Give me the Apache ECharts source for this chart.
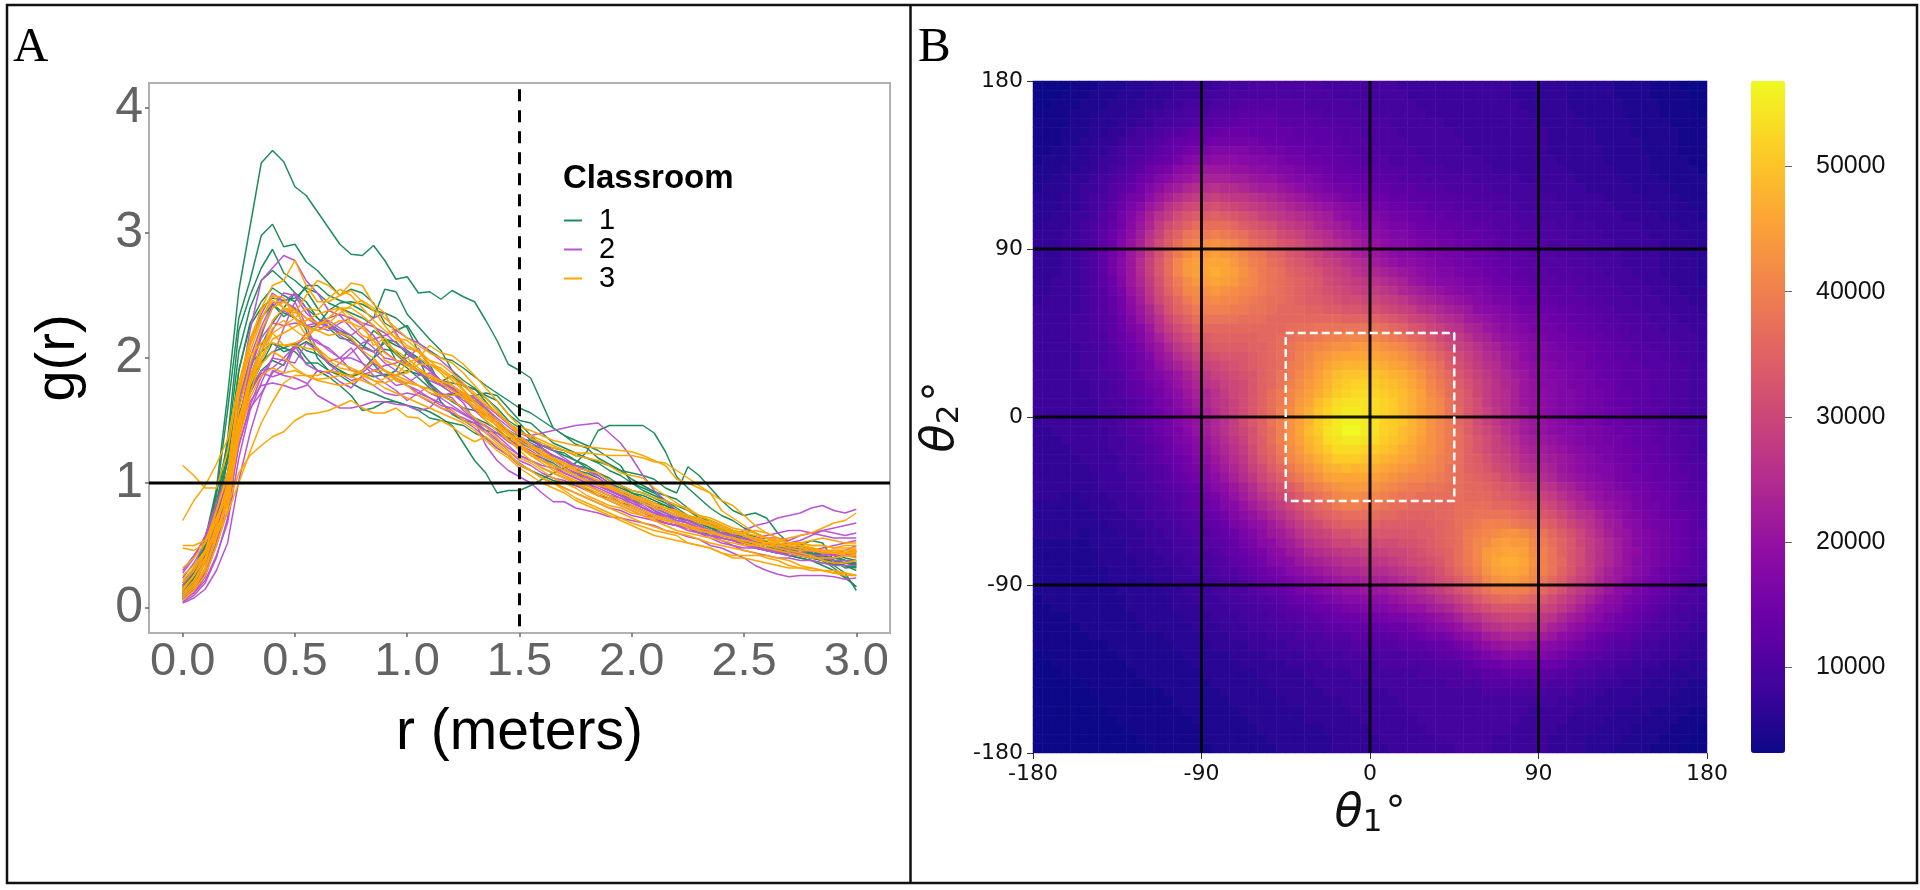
<!DOCTYPE html>
<html><head><meta charset="utf-8">
<style>html,body{margin:0;padding:0;background:#fff}#c{width:1920px;height:890px}</style>
<script src="https://cdn.jsdelivr.net/npm/echarts@6/dist/echarts.min.js"></script>
</head><body><div id="c"></div>
<script>
// Panel A: radial distribution curves, g(r) in hundredths, r = 0, 0.05, ... 3.0
const rValues = [0,0.05,0.1,0.15,0.2,0.25,0.3,0.35,0.4,0.45,0.5,0.55,0.6,0.65,0.7,0.75,0.8,0.85,0.9,0.95,1,1.05,1.1,1.15,1.2,1.25,1.3,1.35,1.4,1.45,1.5,1.55,1.6,1.65,1.7,1.75,1.8,1.85,1.9,1.95,2,2.05,2.1,2.15,2.2,2.25,2.3,2.35,2.4,2.45,2.5,2.55,2.6,2.65,2.7,2.75,2.8,2.85,2.9,2.95,3];
const classroom1 = [
[17,30,55,95,170,254,305,356,366,357,337,330,317,304,291,283,282,290,278,263,265,252,253,247,254,249,245,230,214,195,190,184,164,144,138,131,128,120,115,110,103,98,93,90,87,80,72,70,66,62,60,57,53,50,46,48,42,38,32,25,17],
[12,24,48,90,158,232,262,298,307,289,291,277,270,260,250,255,252,244,228,222,226,212,206,200,198,192,185,178,172,166,160,156,150,144,138,134,130,126,120,114,100,94,90,86,82,78,72,68,64,60,58,56,52,50,48,46,44,40,34,28,14],
[10,20,42,80,135,222,250,272,287,268,262,254,240,228,222,218,210,205,212,203,195,190,178,170,171,168,170,172,170,160,150,148,140,132,128,124,120,116,110,106,100,96,92,86,80,74,70,66,62,60,56,52,50,46,44,42,40,38,36,34,33],
[14,26,50,92,130,205,240,262,270,262,252,245,232,224,216,214,207,222,215,198,192,184,176,170,166,160,158,154,148,142,137,130,128,122,118,114,112,106,100,96,92,88,84,82,76,72,68,64,62,58,54,50,48,46,42,40,38,36,35,34,32],
[9,18,38,72,118,190,228,245,256,250,245,258,258,250,246,243,238,232,255,253,235,225,215,206,190,182,176,165,155,148,142,136,128,120,116,110,108,104,98,94,88,84,80,78,74,70,66,62,60,56,52,50,46,44,48,50,46,42,38,36,35],
[16,28,48,85,122,190,226,240,248,246,248,256,252,244,240,236,232,226,215,213,203,197,190,182,180,178,175,170,166,155,148,138,130,126,122,118,114,108,102,98,94,92,88,84,78,74,70,66,64,60,56,54,50,48,46,44,44,42,40,38,36],
[20,32,50,82,118,178,212,232,243,236,232,224,226,238,244,245,243,238,236,232,224,205,195,178,172,170,168,160,150,142,132,128,122,118,112,108,106,100,96,92,86,84,80,76,72,70,66,62,60,58,56,52,50,48,44,42,40,42,44,40,38],
[8,16,30,58,95,160,194,218,243,233,240,222,200,190,188,186,190,200,207,205,197,190,180,172,165,160,152,148,143,136,128,124,120,116,110,108,102,98,94,90,86,84,78,74,72,70,68,64,60,56,52,48,46,44,42,40,38,34,30,24,17],
[10,22,40,70,108,168,195,205,212,205,208,213,208,196,190,185,190,200,215,210,206,200,192,180,176,172,166,158,150,140,134,130,126,122,118,112,106,100,94,90,88,84,78,72,68,66,62,60,58,56,52,50,46,44,44,42,40,38,38,36,35],
[7,15,28,52,88,142,175,190,198,194,212,206,203,196,190,185,188,185,187,186,190,187,184,181,186,178,175,168,160,150,144,134,130,126,124,118,112,108,104,98,92,90,86,82,78,72,70,68,62,60,58,54,52,48,46,44,42,44,42,38,36],
[18,30,46,74,105,155,180,197,205,208,212,200,190,185,178,170,158,160,165,165,162,160,157,152,146,132,118,108,92,94,94,98,103,108,112,116,125,142,146,146,146,146,140,125,105,96,88,80,74,70,64,60,56,52,48,44,42,40,38,36,34],
[13,24,42,68,98,150,185,210,228,240,252,240,232,225,220,215,205,195,185,190,205,200,180,165,155,150,148,142,140,136,135,134,130,128,126,122,120,117,114,110,108,106,103,96,92,113,106,96,86,78,74,76,72,60,52,50,54,52,38,32,33],
[11,20,36,62,92,145,176,195,212,208,205,196,196,190,186,180,175,172,168,165,162,158,152,150,148,146,140,136,128,122,116,110,106,102,100,98,95,90,88,84,82,78,74,70,68,64,62,58,56,54,52,50,48,46,50,48,44,40,36,34,30]
];
const classroom2 = [
[6,12,25,52,90,170,222,262,272,282,278,262,252,238,234,224,216,208,200,198,194,190,184,178,172,166,160,155,148,140,133,128,122,118,114,110,105,100,94,90,86,82,76,72,68,64,60,58,56,54,52,50,47,45,44,43,42,42,43,42,41],
[10,18,32,62,98,175,215,235,252,245,252,240,225,222,228,232,226,218,205,198,195,188,182,178,176,172,168,162,155,148,140,136,130,126,120,114,110,104,98,94,90,86,80,76,72,68,64,62,60,58,56,53,50,48,46,44,46,44,46,46,45],
[28,40,58,84,108,165,200,225,244,245,240,232,226,230,224,218,225,232,236,220,205,196,190,182,178,170,164,156,150,142,136,130,126,122,118,114,110,106,100,94,90,86,82,78,74,70,66,62,60,58,62,66,68,72,74,76,80,82,78,76,79],
[8,14,26,50,85,150,190,216,228,226,228,226,228,232,235,232,228,225,220,212,205,198,190,182,178,172,168,160,152,145,138,132,128,122,118,112,106,100,96,92,88,84,78,74,70,68,64,60,58,56,54,54,56,56,54,58,60,58,56,56,56],
[5,10,20,40,72,135,172,190,192,200,210,216,214,206,200,200,196,190,186,178,180,186,188,182,176,168,158,150,142,135,130,126,120,114,108,104,100,96,92,88,84,80,76,72,68,66,62,60,58,56,54,52,52,50,48,46,46,48,50,52,54],
[12,22,38,66,98,150,172,188,185,188,210,195,190,188,196,204,212,215,218,222,216,212,205,198,190,178,170,162,155,147,140,138,140,142,144,146,147,148,140,132,120,106,94,86,78,72,66,62,58,56,52,50,48,46,44,42,40,40,38,38,38],
[15,26,40,64,92,140,165,178,180,178,175,178,190,188,181,176,186,190,194,196,200,208,192,180,175,170,165,160,150,142,136,130,124,118,112,108,104,98,94,90,86,80,76,74,70,68,64,62,60,56,54,56,58,60,62,62,60,62,60,58,60],
[4,8,15,30,52,102,140,170,190,186,184,180,170,165,160,160,162,165,165,163,162,158,160,170,172,164,150,130,118,110,105,100,92,85,85,80,78,76,73,72,70,68,66,62,60,57,55,50,48,44,40,34,30,27,25,26,26,26,25,23,24],
[18,30,44,66,85,130,162,185,200,198,196,212,206,197,200,208,196,186,180,174,166,172,178,172,168,158,150,146,140,133,128,124,118,114,110,106,102,98,94,90,84,80,76,72,68,66,64,60,56,54,52,48,46,46,48,50,48,44,42,42,44],
[9,16,28,50,78,130,160,172,188,195,208,220,212,208,200,190,188,196,190,182,178,174,168,162,160,155,150,145,138,130,122,118,112,108,104,100,98,94,90,88,82,78,72,68,66,62,60,58,54,50,46,44,42,40,40,38,38,36,34,34,34],
[24,36,52,76,100,150,182,205,222,238,232,226,222,228,218,212,208,205,196,190,184,178,172,168,162,156,150,142,135,128,122,118,114,112,108,104,100,94,90,84,80,76,72,68,66,64,62,60,56,54,50,48,46,44,42,42,40,40,40,42,46],
[7,12,22,42,68,120,158,180,200,224,245,226,206,195,188,182,184,178,172,170,172,170,165,160,156,152,148,140,134,126,118,114,108,104,102,98,94,90,86,82,78,74,70,68,66,64,60,56,52,50,48,48,46,46,44,44,42,42,44,46,50],
[30,42,56,80,102,150,190,220,240,252,250,236,228,225,222,215,205,196,190,184,178,172,168,164,158,150,144,136,128,122,114,110,104,100,96,92,88,84,80,78,74,72,70,68,66,64,62,60,58,56,54,52,50,50,52,54,58,62,64,66,68]
];
const classroom3 = [
[10,20,36,66,100,170,210,240,258,262,278,258,245,245,250,260,258,243,236,218,210,205,195,190,182,174,165,158,150,142,136,130,124,120,114,110,106,102,98,94,90,86,84,80,76,74,70,66,62,60,58,54,52,50,48,46,46,44,44,44,45],
[14,26,44,78,108,175,210,232,246,240,236,250,262,258,250,254,245,238,226,215,208,205,198,195,188,180,172,164,156,148,140,138,134,130,126,124,124,123,122,122,122,120,117,116,110,104,98,92,78,72,66,60,56,52,50,48,48,46,46,44,43],
[114,106,96,96,125,180,215,238,250,240,232,240,238,248,255,250,240,230,222,216,214,206,198,190,184,178,170,162,156,148,142,136,132,128,126,122,120,118,114,108,106,104,96,90,84,78,74,70,66,62,60,58,56,54,52,52,50,50,48,48,48],
[70,86,98,115,135,180,202,212,220,210,212,216,225,232,240,240,234,226,212,206,200,192,186,180,174,168,160,152,146,140,134,128,124,118,116,112,110,108,102,98,94,92,88,86,82,80,74,72,68,64,62,60,56,54,52,50,48,46,46,46,46],
[26,34,46,62,82,108,122,130,137,141,150,155,156,158,162,166,160,156,156,160,153,152,145,150,145,138,133,137,130,122,115,110,104,100,96,92,88,84,80,76,72,68,65,62,60,58,55,52,50,48,46,44,40,38,34,32,30,30,30,28,26],
[22,32,44,58,76,100,125,148,165,180,186,186,182,180,178,180,184,190,190,182,178,170,166,160,158,150,146,140,132,124,115,110,104,100,94,88,84,80,76,72,68,65,62,60,58,52,50,48,44,42,42,42,42,40,38,34,32,30,28,26,26],
[50,50,54,72,95,150,180,195,205,200,192,186,186,190,188,185,182,178,184,186,188,195,195,188,178,170,160,152,146,138,130,122,118,112,106,100,94,90,86,82,78,74,72,70,68,66,62,60,58,56,54,52,50,50,50,52,54,56,54,52,52],
[48,46,52,70,90,140,172,198,215,220,225,230,235,238,240,234,228,210,216,204,196,190,184,180,174,168,162,154,148,140,132,124,118,114,110,106,102,98,96,94,90,88,84,80,78,74,72,68,64,62,58,56,52,52,50,48,46,46,46,46,47],
[32,40,52,78,105,170,205,230,250,248,232,218,226,232,240,228,218,214,204,198,194,190,186,182,178,172,164,156,148,140,130,124,122,118,112,106,102,100,98,94,90,86,82,80,76,72,70,68,66,62,60,62,60,56,52,50,48,46,44,42,40],
[12,22,38,66,96,158,195,222,240,245,238,232,228,228,236,242,246,240,232,224,216,210,204,200,196,188,178,168,158,148,138,130,126,120,116,110,106,102,96,92,88,84,80,78,74,72,68,66,64,60,58,56,54,54,52,52,50,50,48,50,50],
[8,16,30,56,85,144,180,200,220,226,232,224,222,225,230,228,224,215,198,194,188,200,210,204,202,195,186,176,166,155,145,142,138,134,132,130,129,128,127,126,125,122,118,114,103,100,96,92,86,82,74,66,60,56,52,50,48,46,44,44,45],
[10,18,32,58,90,150,185,210,212,210,210,208,206,198,192,190,186,182,180,184,180,178,175,170,166,160,152,145,136,126,120,116,110,104,100,96,90,86,82,80,76,74,70,66,62,60,58,56,54,52,50,50,52,54,56,58,60,64,68,70,76],
[16,26,40,62,85,135,168,186,192,188,190,186,183,184,186,186,190,198,190,186,196,200,195,192,185,175,165,155,145,135,126,118,112,108,104,100,96,92,88,84,80,76,74,72,68,64,62,60,58,56,54,52,50,48,46,44,42,38,36,36,38],
[6,14,26,50,78,140,178,205,230,240,238,225,222,218,220,216,206,200,190,186,182,178,172,170,170,172,160,150,142,134,128,122,116,110,106,102,98,94,90,86,82,78,74,70,68,66,64,62,58,56,52,50,48,46,44,42,40,40,40,42,42],
[20,30,46,70,92,148,182,205,224,230,222,216,208,200,196,192,188,182,176,172,168,164,160,156,152,148,142,134,126,120,112,106,100,96,92,86,82,78,74,70,66,62,58,56,54,52,50,48,44,40,40,38,36,34,32,32,32,30,28,28,26]
];
const classrooms = ['1','2','3'];
const referenceR = 1.5;
const referenceG = 1;
const rTicks = [0,0.5,1,1.5,2,2.5,3];
const gTicks = [0,1,2,3,4];

// Panel B: heat map, thousands of counts, top row (theta2 = 177.5) to bottom row (-177.5)
const heatThousands = [
[3,3,3,3,4,4,4,5,5,5,6,6,6,7,7,7,8,8,8,8,9,9,9,10,10,10,10,10,10,10,10,9,9,9,9,9,9,9,9,8,8,8,8,8,8,8,8,8,8,8,8,7,7,7,7,7,7,6,6,6,6,6,5,5,5,5,4,4,4,3,3,3],
[3,3,3,4,4,4,5,5,5,6,6,6,7,7,7,8,8,8,9,9,9,10,10,10,10,10,10,10,10,10,10,10,9,9,9,9,9,9,9,9,8,8,8,8,8,8,8,8,8,8,8,7,7,7,7,7,7,6,6,6,6,6,5,5,5,5,4,4,4,4,3,3],
[3,3,4,4,4,5,5,5,6,6,6,7,7,7,8,8,9,9,9,10,10,10,11,11,11,11,11,11,11,10,10,10,10,10,9,9,9,9,9,9,9,8,8,8,8,8,8,8,8,8,8,8,7,7,7,7,7,6,6,6,6,6,6,5,5,5,5,4,4,4,3,3],
[3,4,4,4,5,5,5,6,6,6,7,7,8,8,9,9,10,10,10,11,11,11,12,12,12,12,11,11,11,11,11,10,10,10,10,10,9,9,9,9,9,9,8,8,8,8,8,8,8,8,8,8,8,7,7,7,7,7,6,6,6,6,6,5,5,5,5,4,4,4,4,3],
[4,4,4,4,5,5,6,6,6,7,7,8,8,9,9,10,10,11,11,12,12,12,13,13,13,13,12,12,12,12,11,11,11,11,10,10,10,10,9,9,9,9,9,9,8,8,8,8,8,8,8,8,8,8,7,7,7,7,7,6,6,6,6,6,5,5,5,5,4,4,4,4],
[4,4,4,5,5,5,6,6,7,7,8,9,9,10,11,11,12,13,13,13,14,14,14,13,13,13,13,13,12,12,12,12,11,11,11,10,10,10,10,9,9,9,9,9,9,8,8,8,8,8,8,8,8,8,8,7,7,7,7,7,6,6,6,6,5,5,5,5,5,4,4,4],
[4,4,4,5,5,6,6,7,7,8,9,9,10,11,12,13,13,14,14,15,15,15,15,15,14,14,14,13,13,13,12,12,12,11,11,11,10,10,10,10,9,9,9,9,9,9,8,8,8,8,8,8,8,8,8,7,7,7,7,7,6,6,6,6,6,5,5,5,5,4,4,4],
[4,4,5,5,6,6,7,7,8,9,10,10,11,12,13,14,15,16,16,17,17,17,17,16,16,15,15,14,14,13,13,13,12,12,11,11,11,10,10,10,10,9,9,9,9,9,9,8,8,8,8,8,8,8,8,7,7,7,7,7,7,6,6,6,6,5,5,5,5,4,4,4],
[4,5,5,5,6,6,7,8,8,9,10,11,12,13,14,15,17,18,18,19,19,19,18,18,17,17,16,15,15,14,14,13,13,12,12,11,11,11,10,10,10,10,9,9,9,9,9,9,8,8,8,8,8,8,8,8,7,7,7,7,7,6,6,6,6,6,5,5,5,5,4,4],
[5,5,5,6,6,7,7,8,9,10,11,12,14,15,16,18,19,20,21,21,21,20,20,19,19,18,17,17,16,15,15,14,13,13,12,12,12,11,11,11,10,10,10,10,9,9,9,9,9,8,8,8,8,8,8,8,8,7,7,7,7,7,6,6,6,6,5,5,5,5,5,4],
[5,5,6,6,7,7,8,9,10,11,12,14,15,17,18,20,21,22,23,23,23,22,22,21,20,20,19,18,17,17,16,15,14,14,13,13,12,12,12,11,11,11,10,10,10,10,10,9,9,9,9,9,8,8,8,8,8,8,7,7,7,7,7,6,6,6,6,5,5,5,5,5],
[5,6,6,6,7,8,8,9,11,12,13,15,17,19,21,22,24,25,25,26,25,25,24,23,22,22,21,20,19,18,17,16,15,15,14,14,13,13,12,12,12,11,11,11,10,10,10,10,10,9,9,9,9,9,8,8,8,8,8,7,7,7,7,7,6,6,6,6,5,5,5,5],
[6,6,6,7,7,8,9,10,11,13,15,16,19,21,23,25,27,28,28,29,28,27,27,26,25,24,23,22,21,20,19,18,17,16,15,15,14,14,13,13,12,12,12,11,11,11,11,10,10,10,10,9,9,9,9,9,8,8,8,8,8,7,7,7,7,6,6,6,6,5,5,5],
[6,6,6,7,7,8,9,10,12,14,16,18,21,23,26,28,30,31,31,32,31,30,29,28,27,26,25,24,23,22,21,20,19,18,17,16,15,15,14,14,13,13,12,12,12,11,11,11,11,10,10,10,9,9,9,9,9,8,8,8,8,8,7,7,7,7,6,6,6,6,5,5],
[6,6,7,7,8,8,9,11,12,15,17,20,23,26,28,31,33,34,34,35,34,33,32,31,29,28,27,26,25,24,23,22,20,19,18,17,17,16,15,15,14,14,13,13,12,12,12,11,11,11,11,10,10,10,9,9,9,9,8,8,8,8,8,7,7,7,7,6,6,6,6,5],
[6,7,7,7,8,9,10,11,13,15,18,21,24,28,31,33,35,37,37,37,37,36,34,33,32,31,29,28,27,26,24,23,22,21,19,18,18,17,16,16,15,14,14,13,13,13,12,12,12,11,11,11,10,10,10,10,9,9,9,9,8,8,8,8,8,7,7,7,7,6,6,6],
[7,7,7,8,8,9,10,12,14,16,19,22,26,29,33,35,38,39,39,40,39,38,37,35,34,33,31,30,29,27,26,25,23,22,21,20,19,18,17,17,16,15,15,14,14,13,13,13,12,12,11,11,11,11,10,10,10,9,9,9,9,8,8,8,8,8,7,7,7,7,6,6],
[7,7,7,8,8,9,10,12,14,17,20,23,27,31,34,37,40,41,42,43,42,41,39,37,36,35,33,32,31,29,28,26,25,24,22,21,20,19,18,18,17,16,16,15,15,14,14,13,13,12,12,12,11,11,11,10,10,10,10,9,9,9,8,8,8,8,8,7,7,7,7,6],
[7,7,7,8,8,9,10,12,15,17,21,24,28,32,36,39,42,44,44,45,44,43,41,39,38,36,35,33,32,30,29,27,26,25,23,22,21,20,19,18,18,17,16,16,15,15,14,14,13,13,12,12,12,11,11,11,10,10,10,9,9,9,9,8,8,8,8,7,7,7,6,6],
[7,7,7,8,8,9,10,12,15,18,21,25,29,33,37,41,44,45,46,46,46,44,42,40,39,37,36,34,33,32,30,29,28,26,25,24,22,21,20,19,19,18,17,16,16,15,15,14,14,13,13,12,12,12,11,11,11,10,10,10,9,9,9,8,8,8,8,7,7,7,7,6],
[7,7,7,8,8,9,10,12,15,18,21,25,29,33,37,41,44,45,46,47,46,45,43,41,39,38,37,35,34,33,32,30,29,28,26,25,24,23,22,21,20,19,18,17,17,16,15,15,14,14,13,13,12,12,12,11,11,11,10,10,10,9,9,9,8,8,8,7,7,7,7,6],
[7,7,8,8,8,9,10,12,14,17,21,24,28,32,36,39,42,44,45,46,45,44,42,41,39,38,37,36,35,34,33,31,30,29,28,27,26,25,24,23,21,20,19,18,18,17,16,16,15,14,14,13,13,12,12,12,11,11,11,10,10,10,9,9,9,8,8,8,7,7,7,6],
[7,7,8,8,8,9,10,11,14,16,20,23,27,31,35,38,41,42,43,44,43,42,41,40,39,38,37,36,35,34,33,32,31,30,29,28,28,27,26,24,23,22,21,20,19,18,17,17,16,15,15,14,14,13,13,12,12,12,11,11,10,10,10,9,9,9,8,8,8,7,7,7],
[7,8,8,8,8,9,10,11,13,15,19,22,26,30,33,36,39,41,41,42,41,41,40,39,38,37,37,36,35,34,34,33,32,31,31,30,30,29,28,27,25,24,23,22,21,20,19,18,17,16,16,15,14,14,13,13,12,12,12,11,11,10,10,10,9,9,9,8,8,8,7,7],
[8,8,8,8,8,9,10,11,13,15,18,21,24,28,32,35,37,39,40,40,40,39,39,38,38,37,36,36,36,35,35,34,34,33,33,32,32,31,30,29,28,26,25,24,23,22,21,19,18,18,17,16,15,15,14,14,13,13,12,12,11,11,10,10,10,9,9,9,8,8,8,7],
[8,8,8,8,9,9,10,11,12,14,17,20,23,26,30,33,35,37,38,38,38,38,37,37,37,36,36,36,36,36,36,36,36,35,35,35,35,34,33,32,30,29,28,26,25,24,22,21,20,19,18,17,16,16,15,14,14,13,13,12,12,11,11,10,10,10,9,9,9,8,8,8],
[8,8,8,8,9,9,10,11,12,14,16,18,21,25,28,31,33,35,36,36,36,36,36,36,36,36,36,37,37,37,38,38,38,38,38,38,38,37,36,35,33,32,30,29,27,26,24,23,21,20,19,18,17,16,15,15,14,14,13,13,12,12,11,11,10,10,10,9,9,9,8,8],
[8,8,8,8,9,9,10,10,12,13,15,17,20,23,26,29,31,33,34,35,35,35,35,35,36,36,37,37,38,38,39,40,40,41,41,41,41,40,39,38,36,35,33,31,29,28,26,24,23,21,20,19,18,17,16,15,15,14,14,13,13,12,12,11,11,10,10,10,9,9,9,8],
[8,8,8,8,8,9,9,10,11,13,14,16,19,21,24,27,29,31,33,34,34,34,34,35,35,36,37,38,39,40,41,42,43,43,44,44,44,43,42,41,39,37,35,33,31,29,28,26,24,23,21,20,19,18,17,16,15,15,14,14,13,13,12,12,11,11,10,10,10,9,9,8],
[8,8,8,8,8,9,9,10,11,12,14,15,17,20,22,25,27,29,31,32,33,33,33,34,35,36,37,38,40,41,43,44,45,46,46,46,46,45,44,43,41,39,37,35,33,31,29,27,25,24,22,21,19,18,17,16,16,15,15,14,13,13,12,12,11,11,11,10,10,9,9,8],
[8,8,8,8,8,9,9,10,11,12,13,15,16,19,21,23,25,27,29,30,31,32,33,34,35,36,37,39,40,42,44,46,47,48,48,48,48,47,46,45,43,41,39,37,34,32,30,28,26,25,23,21,20,19,18,17,16,16,15,14,14,13,13,12,12,11,11,11,10,10,9,9],
[8,8,8,8,8,9,9,10,10,11,13,14,16,17,19,21,23,25,27,29,30,31,32,33,35,36,38,39,41,43,45,47,49,50,50,50,50,49,48,47,45,43,40,38,36,33,31,29,27,25,24,22,21,19,18,17,17,16,15,15,14,13,13,12,12,12,11,11,10,10,9,9],
[8,8,8,8,8,8,9,9,10,11,12,13,15,16,18,20,22,24,26,27,29,30,31,33,35,36,38,40,42,44,46,48,50,51,52,52,51,50,49,48,46,44,41,39,37,34,32,30,28,26,24,23,21,20,18,18,17,16,16,15,14,14,13,12,12,12,11,11,10,10,9,9],
[8,8,8,8,8,8,9,9,10,11,12,13,14,15,17,19,21,23,24,26,28,30,31,33,35,37,39,41,43,45,47,49,51,52,53,53,52,51,50,49,47,45,42,40,37,35,33,30,28,26,25,23,21,20,19,18,17,17,16,15,15,14,13,13,12,12,11,11,10,10,9,9],
[8,8,8,8,8,8,8,9,10,10,11,12,13,15,16,18,20,22,24,26,27,29,31,33,35,37,39,41,44,46,49,51,53,54,54,54,53,52,51,49,47,45,43,41,38,35,33,31,28,26,25,23,21,20,19,18,17,17,16,15,15,14,13,13,12,12,11,11,10,10,9,9],
[8,8,8,8,8,8,8,9,9,10,11,12,13,14,16,17,19,21,23,25,27,29,31,33,35,37,40,42,45,47,50,52,54,55,55,54,53,52,51,49,47,45,43,41,38,36,33,31,29,27,25,23,22,20,19,18,17,17,16,15,15,14,14,13,12,12,12,11,10,10,9,9],
[7,8,8,8,8,8,8,9,9,10,11,12,13,14,15,17,19,20,22,24,26,28,31,33,35,38,40,43,45,48,51,53,55,56,56,55,54,52,51,50,48,46,43,41,39,36,34,31,29,27,25,24,22,21,20,19,18,17,16,16,15,14,14,13,13,12,12,11,11,10,10,9],
[7,7,8,8,8,8,8,8,9,10,11,11,12,14,15,16,18,20,22,24,26,28,30,32,35,37,40,43,46,49,51,54,55,57,57,55,54,52,51,49,48,46,43,41,39,37,34,32,30,28,26,24,22,21,20,19,18,18,17,16,16,15,14,14,13,13,12,11,11,10,10,9],
[7,7,7,8,8,8,8,8,9,9,10,11,12,13,14,16,17,19,21,23,25,27,29,32,34,37,40,43,45,48,50,53,54,55,55,54,53,51,50,49,47,45,43,41,39,37,35,33,31,29,27,25,23,22,21,20,19,18,17,16,16,15,15,14,13,13,12,12,11,11,10,9],
[7,7,7,7,8,8,8,8,9,9,10,10,11,12,14,15,16,18,20,22,24,26,28,31,34,36,39,42,44,47,49,51,53,53,53,52,51,50,49,47,46,44,43,41,39,37,35,33,31,29,28,26,24,23,22,21,20,19,18,17,16,16,15,14,14,13,13,12,11,11,10,9],
[7,7,7,7,7,8,8,8,8,9,9,10,11,12,13,14,15,17,19,21,23,25,27,30,33,35,38,41,43,45,47,49,51,51,51,50,49,48,47,46,45,43,42,40,39,37,35,34,32,30,29,27,25,24,23,22,21,20,19,18,17,16,15,15,14,13,13,12,12,11,10,10],
[7,7,7,7,7,7,8,8,8,9,9,10,10,11,12,14,15,16,18,20,22,24,26,29,31,34,36,39,41,43,45,47,48,49,48,48,47,46,45,44,43,42,41,40,38,37,35,34,33,31,30,28,26,25,24,23,21,20,19,18,17,17,16,15,14,14,13,13,12,11,11,10],
[7,7,7,7,7,7,7,8,8,8,9,9,10,11,12,13,14,15,17,19,21,23,25,27,30,32,34,37,39,41,43,45,46,46,46,46,45,44,43,42,41,41,40,39,38,37,36,35,34,33,31,30,28,27,25,24,22,21,20,19,18,17,16,15,15,14,13,13,12,12,11,10],
[7,7,7,7,7,7,7,8,8,8,9,9,10,10,11,12,13,14,16,18,19,21,23,25,28,30,32,34,36,39,40,42,43,44,44,44,43,42,41,40,39,39,38,38,37,37,36,36,35,34,33,32,30,29,27,26,24,23,21,20,19,18,17,16,15,15,14,13,13,12,11,11],
[7,7,7,6,6,7,7,7,8,8,8,9,9,10,11,11,12,13,15,16,18,20,22,24,26,28,30,32,34,36,38,39,41,42,42,41,41,40,39,38,38,37,37,37,37,37,36,36,36,35,34,33,32,31,29,28,26,24,23,21,20,19,18,17,16,15,14,14,13,12,11,11],
[6,6,6,6,6,6,7,7,7,8,8,8,9,10,10,11,12,13,14,15,17,18,20,22,24,26,28,30,32,34,36,37,39,40,40,39,39,38,37,37,36,36,36,36,36,37,37,37,37,36,36,35,34,33,31,30,28,26,24,23,21,20,19,18,16,15,15,14,13,12,12,11],
[6,6,6,6,6,6,6,7,7,7,8,8,9,9,10,10,11,12,13,14,15,17,19,20,22,24,26,28,30,32,34,35,36,37,37,37,37,36,36,35,35,35,35,36,36,37,37,38,38,38,38,37,36,35,33,32,30,28,26,25,23,21,20,18,17,16,15,14,13,13,12,11],
[6,6,6,6,6,6,6,6,7,7,7,8,8,9,9,10,11,11,12,13,14,16,17,19,20,22,24,26,28,30,31,33,34,35,35,35,35,34,34,34,34,34,35,35,36,37,38,39,40,40,40,39,38,37,35,34,32,30,28,26,24,22,21,19,18,16,15,15,14,13,12,11],
[6,6,6,6,6,5,6,6,6,7,7,7,8,8,9,9,10,11,11,12,13,14,16,17,19,21,22,24,26,28,29,30,32,32,33,33,33,33,33,33,33,34,34,35,36,37,39,40,41,42,43,43,42,40,38,36,34,32,30,27,25,23,21,20,18,17,16,15,14,13,12,12],
[5,5,5,5,5,5,6,6,6,6,7,7,8,8,8,9,9,10,11,12,12,13,15,16,18,19,21,22,24,26,27,28,30,30,31,31,31,31,31,32,32,33,34,35,36,37,39,41,42,44,45,44,44,41,39,37,35,33,30,28,26,24,22,20,18,17,16,15,14,13,12,12],
[5,5,5,5,5,5,5,6,6,6,7,7,7,8,8,9,9,10,10,11,12,13,14,15,16,18,19,21,22,24,25,26,27,28,28,29,29,29,30,30,31,32,33,34,35,37,39,41,44,45,46,46,45,42,40,38,35,33,31,28,26,24,22,20,19,17,16,15,14,13,12,11],
[5,5,5,5,5,5,5,6,6,6,6,7,7,7,8,8,9,9,10,10,11,12,13,14,15,17,18,19,21,22,23,24,25,26,26,27,27,27,28,29,30,31,32,33,35,37,39,41,44,46,47,47,46,43,40,38,36,33,31,28,26,24,22,20,18,17,16,15,14,13,12,11],
[5,5,5,5,5,5,5,5,6,6,6,6,7,7,7,8,8,9,9,10,11,11,12,13,14,15,16,18,19,20,21,22,23,24,24,25,25,25,26,27,28,29,30,32,34,36,38,40,43,45,46,46,45,42,40,38,35,33,30,28,25,23,21,20,18,17,15,14,13,12,12,11],
[5,5,5,5,5,5,5,5,6,6,6,6,6,7,7,8,8,8,9,9,10,10,11,12,13,14,15,16,17,18,19,20,21,22,22,23,23,23,24,25,26,28,29,31,32,34,36,38,41,43,44,44,43,41,38,36,34,31,29,27,24,22,21,19,17,16,15,14,13,12,11,10],
[5,5,5,5,5,5,5,5,5,6,6,6,6,6,7,7,8,8,8,9,9,10,10,11,12,13,13,14,15,16,17,18,19,20,20,21,21,21,22,23,24,25,27,28,30,32,34,36,38,40,40,40,40,38,36,34,32,29,27,25,23,21,19,18,16,15,14,13,12,11,10,10],
[4,5,5,5,5,5,5,5,5,5,6,6,6,6,6,7,7,8,8,8,9,9,10,10,11,11,12,13,14,14,15,16,17,18,18,19,19,19,20,21,22,23,24,26,27,29,31,33,35,36,37,37,36,35,33,31,29,27,25,23,21,19,18,16,15,14,13,12,11,10,10,9],
[4,4,5,5,5,5,5,5,5,5,6,6,6,6,6,7,7,7,8,8,8,9,9,9,10,10,11,12,12,13,14,14,15,16,16,17,17,17,18,19,20,20,22,23,24,26,28,30,31,33,33,33,33,32,30,29,27,25,23,21,19,18,17,15,14,13,12,11,10,10,9,9],
[4,4,4,4,5,5,5,5,5,5,5,6,6,6,6,6,7,7,7,8,8,8,9,9,9,10,10,11,11,12,12,13,14,14,14,15,15,15,16,16,17,18,19,20,21,23,25,26,28,29,30,30,30,29,27,26,24,22,21,19,18,16,15,14,13,12,11,10,10,9,9,8],
[4,4,4,4,4,5,5,5,5,5,5,5,6,6,6,6,6,7,7,7,8,8,8,9,9,9,10,10,10,11,11,12,12,13,13,13,13,13,14,14,15,16,17,18,19,20,22,23,25,26,27,27,27,26,25,23,22,20,19,17,16,15,14,13,12,11,10,10,9,9,8,8],
[4,4,4,4,4,4,5,5,5,5,5,5,5,5,6,6,6,6,7,7,7,8,8,8,8,9,9,9,10,10,10,11,11,11,12,12,12,12,12,13,13,14,15,15,16,18,19,20,22,23,24,24,24,23,22,21,19,18,17,15,14,13,12,12,11,10,10,9,9,8,8,7],
[4,4,4,4,4,4,4,4,5,5,5,5,5,5,5,6,6,6,6,7,7,7,7,8,8,8,8,9,9,9,10,10,10,10,11,11,11,11,11,12,12,12,13,13,14,15,16,18,19,20,21,21,21,20,19,18,17,16,15,14,13,12,11,11,10,9,9,8,8,8,7,7],
[3,4,4,4,4,4,4,4,4,5,5,5,5,5,5,5,6,6,6,6,6,7,7,7,7,8,8,8,8,9,9,9,9,10,10,10,10,10,10,10,11,11,11,12,12,13,14,15,16,17,18,18,18,17,17,16,15,14,13,12,12,11,10,10,9,9,8,8,8,7,7,7],
[3,3,4,4,4,4,4,4,4,4,5,5,5,5,5,5,5,6,6,6,6,6,7,7,7,7,7,8,8,8,8,9,9,9,9,9,9,10,10,10,10,10,10,11,11,11,12,13,14,14,15,15,15,15,14,14,13,12,12,11,10,10,9,9,8,8,8,7,7,7,6,6],
[3,3,3,4,4,4,4,4,4,4,4,5,5,5,5,5,5,5,6,6,6,6,6,6,7,7,7,7,7,8,8,8,8,8,9,9,9,9,9,9,9,10,10,10,10,10,11,11,12,12,13,13,13,13,12,12,11,11,10,10,9,9,8,8,8,7,7,7,6,6,6,6],
[3,3,3,3,3,4,4,4,4,4,4,4,5,5,5,5,5,5,5,6,6,6,6,6,6,7,7,7,7,7,8,8,8,8,8,8,9,9,9,9,9,9,9,9,10,10,10,10,11,11,11,11,11,11,11,10,10,10,9,9,8,8,8,7,7,7,6,6,6,6,5,5],
[3,3,3,3,3,3,4,4,4,4,4,4,4,4,5,5,5,5,5,5,6,6,6,6,6,6,7,7,7,7,7,8,8,8,8,8,8,8,9,9,9,9,9,9,9,9,9,9,10,10,10,10,10,10,10,9,9,9,8,8,8,7,7,7,7,6,6,6,6,5,5,5],
[3,3,3,3,3,3,3,4,4,4,4,4,4,4,4,5,5,5,5,5,5,6,6,6,6,6,6,7,7,7,7,7,7,8,8,8,8,8,8,9,9,9,9,9,9,9,9,9,9,9,9,9,9,9,9,9,8,8,8,8,7,7,7,7,6,6,6,6,5,5,5,5],
[3,3,3,3,3,3,3,3,4,4,4,4,4,4,4,4,5,5,5,5,5,5,6,6,6,6,6,6,6,7,7,7,7,7,8,8,8,8,8,8,9,9,9,9,9,9,9,9,9,9,9,9,9,8,8,8,8,8,7,7,7,7,6,6,6,6,5,5,5,5,4,4],
[3,3,3,3,3,3,3,3,3,4,4,4,4,4,4,4,4,5,5,5,5,5,5,6,6,6,6,6,6,7,7,7,7,7,7,8,8,8,8,8,8,9,9,9,9,9,9,9,9,9,9,9,8,8,8,8,8,7,7,7,7,6,6,6,6,5,5,5,5,4,4,4],
[3,3,3,3,3,3,3,3,3,3,4,4,4,4,4,4,4,4,5,5,5,5,5,5,6,6,6,6,6,6,6,7,7,7,7,7,8,8,8,8,8,8,9,9,9,9,9,9,9,9,9,8,8,8,8,8,7,7,7,7,6,6,6,6,5,5,5,5,4,4,4,3],
[3,3,3,3,3,3,3,3,3,3,3,4,4,4,4,4,4,4,5,5,5,5,5,5,5,6,6,6,6,6,6,6,7,7,7,7,7,8,8,8,8,8,8,9,9,9,9,9,9,8,8,8,8,8,8,7,7,7,7,6,6,6,6,5,5,5,5,4,4,4,3,3],
[3,3,3,3,3,3,3,3,3,3,3,3,4,4,4,4,4,4,4,5,5,5,5,5,5,5,6,6,6,6,6,6,7,7,7,7,7,7,8,8,8,8,8,8,8,9,9,9,9,8,8,8,8,8,8,7,7,7,7,6,6,6,5,5,5,5,4,4,4,3,3,3]
];
const thetaTicks = [-180,-90,0,90,180];
const gridAngles = [-90,0,90];
const boxHalf = 45;
const colorTicks = [10000,20000,30000,40000,50000];
const colorMin = 3150, colorMax = 56830;
const plasma = ['#0d0887','#41049d','#6a00a8','#8f0da4','#b12a90','#cc4778','#e16462','#f2844b','#fca636','#fcce25','#f0f921'];

const colors = {'1':'#1f8c5c','2':'#ba55d3','3':'#ffa500'};
const lineSeries = (rows, name) => rows.map(row => ({
  type:'line', name, xAxisIndex:0, yAxisIndex:0, symbol:'none', silent:true, z:3,
  lineStyle:{color:colors[name], width:1.5}, itemStyle:{color:colors[name]},
  data: row.map((v,i)=>[rValues[i], v/100])
}));
const refLine = (data, opt, ax) => ({
  type:'line', xAxisIndex:ax, yAxisIndex:ax, symbol:'none', silent:true, z:5, data,
  lineStyle:opt, legendHoverLink:false
});
const heatData = [];
heatThousands.forEach((row,r)=>row.forEach((v,c)=>heatData.push([c, heatThousands.length-1-r, v*1000])));
const cells = heatThousands[0].map((_,i)=>String(i));

const series = [
  {type:'heatmap', xAxisIndex:1, yAxisIndex:1, data:heatData, silent:true, progressive:0, z:2},
  ...lineSeries(classroom1,'1'), ...lineSeries(classroom2,'2'), ...lineSeries(classroom3,'3'),
  refLine([[-0.15,referenceG],[3.15,referenceG]],{color:'#000',width:3},0),
  refLine([[referenceR,4.15],[referenceR,-0.2]],{color:'#000',width:3,type:[12,9]},0),
  ...gridAngles.map(a=>refLine([[a,-180],[a,180]],{color:'#000',width:3,opacity:.9},2)),
  ...gridAngles.map(a=>refLine([[-180,a],[180,a]],{color:'#000',width:3,opacity:.9},2)),
  refLine([[-boxHalf,-boxHalf],[-boxHalf,boxHalf],[boxHalf,boxHalf],[boxHalf,-boxHalf],[-boxHalf,-boxHalf]],{color:'#fff',width:2.5,type:[8,4]},2)
];

const chart = echarts.init(document.getElementById('c'),null,{renderer:'canvas'});
const sans='"Liberation Sans",Arial,sans-serif', dv='"DejaVu Sans",sans-serif', serif='"Liberation Serif",serif';
const thetaRich = {
  t:{fontSize:46,fontFamily:dv,fontStyle:'italic',color:'#111'},
  s:{fontSize:31,fontFamily:dv,color:'#111',padding:[16,3,0,0]},
  d:{fontSize:40,fontFamily:dv,color:'#111'}
};
chart.setOption({
  animation:false, backgroundColor:'#fff',
  grid:[
    {left:149,top:83,width:741,height:550,show:true,borderColor:'#b0b0b0',borderWidth:2,backgroundColor:'#fff'},
    {left:1033,top:81,width:674,height:672},
    {left:1033,top:81,width:674,height:672},
    {left:1751,top:81,width:34,height:672}
  ],
  xAxis:[
    {gridIndex:0,type:'value',min:-0.15,max:3.15,splitLine:{show:false},axisLine:{show:false,onZero:false},
     axisTick:{length:4,customValues:rTicks,lineStyle:{color:'#666',width:1.5}},
     axisLabel:{customValues:rTicks,color:'#636363',fontSize:47,fontFamily:sans,margin:6,formatter:v=>(+v).toFixed(1)},
     name:'r (meters)',nameLocation:'middle',nameGap:72,nameTextStyle:{fontSize:57,fontFamily:sans,color:'#000'}},
    {gridIndex:1,type:'category',data:cells,show:false},
    {gridIndex:2,type:'value',min:-180,max:180,interval:90,splitLine:{show:false},axisLine:{show:false,onZero:false},
     axisTick:{length:6,lineStyle:{color:'#333',width:1}},
     axisLabel:{color:'#111',fontSize:22,fontFamily:dv,margin:10,formatter:v=>String(v)},
     name:'{t|θ}{s|1}{d|°}',nameLocation:'middle',nameGap:38,nameTextStyle:{rich:thetaRich}},
    {gridIndex:3,type:'value',show:false,min:0,max:1}
  ],
  yAxis:[
    {gridIndex:0,type:'value',min:-0.2,max:4.2,splitLine:{show:false},axisLine:{show:false,onZero:false},
     axisTick:{length:4,customValues:gTicks,lineStyle:{color:'#666',width:1.5}},
     axisLabel:{customValues:gTicks,color:'#636363',fontSize:50,fontFamily:sans,margin:6,formatter:v=>String(v)},
     name:'g(r)',nameLocation:'middle',nameGap:62,nameTextStyle:{fontSize:56,fontFamily:sans,color:'#000'}},
    {gridIndex:1,type:'category',data:cells,show:false},
    {gridIndex:2,type:'value',min:-180,max:180,interval:90,splitLine:{show:false},axisLine:{show:false,onZero:false},
     axisTick:{length:6,lineStyle:{color:'#333',width:1}},
     axisLabel:{color:'#111',fontSize:22,fontFamily:dv,margin:10,formatter:v=>String(v)},
     name:'{t|θ}{s|2}{d|°}',nameLocation:'middle',nameGap:68,nameTextStyle:{rich:thetaRich}},
    {gridIndex:3,type:'value',position:'right',min:colorMin,max:colorMax,splitLine:{show:false},axisLine:{show:false,onZero:false},
     axisTick:{length:7,customValues:colorTicks,lineStyle:{color:'#666',width:1}},
     axisLabel:{customValues:colorTicks,color:'#111',fontSize:25,fontFamily:sans,margin:31,formatter:v=>String(v)}}
  ],
  visualMap:{type:'continuous',seriesIndex:0,min:colorMin,max:colorMax,left:1751,top:81,itemWidth:34,itemHeight:672,
    padding:0,calculable:false,hoverLink:false,borderRadius:0,inRange:{color:plasma},text:null,textStyle:{fontSize:0}},
  legend:{data:classrooms.map(name=>({name,icon:'rect'})),orient:'vertical',left:564,top:206,padding:0,itemWidth:18,itemHeight:2,itemGap:0,selectedMode:false,
    textStyle:{fontSize:29,lineHeight:27,fontFamily:sans,color:'#000',padding:[0,0,0,12]}},
  series,
  graphic:[
    {type:'rect',silent:true,shape:{x:7,y:5,width:1910,height:878},style:{fill:null,stroke:'#111',lineWidth:2.5},z:10},
    {type:'line',silent:true,shape:{x1:910.5,y1:5,x2:910.5,y2:883},style:{stroke:'#111',lineWidth:2.5},z:10},
    {type:'text',silent:true,x:13,y:24,style:{text:'A',font:'49px '+serif,fill:'#000'},z:10},
    {type:'text',silent:true,x:918,y:24,style:{text:'B',font:'49px '+serif,fill:'#000'},z:10},
    {type:'text',silent:true,x:563,y:162,style:{text:'Classroom',font:'bold 33px '+sans,fill:'#000'},z:10}
  ]
});
</script></body></html>
